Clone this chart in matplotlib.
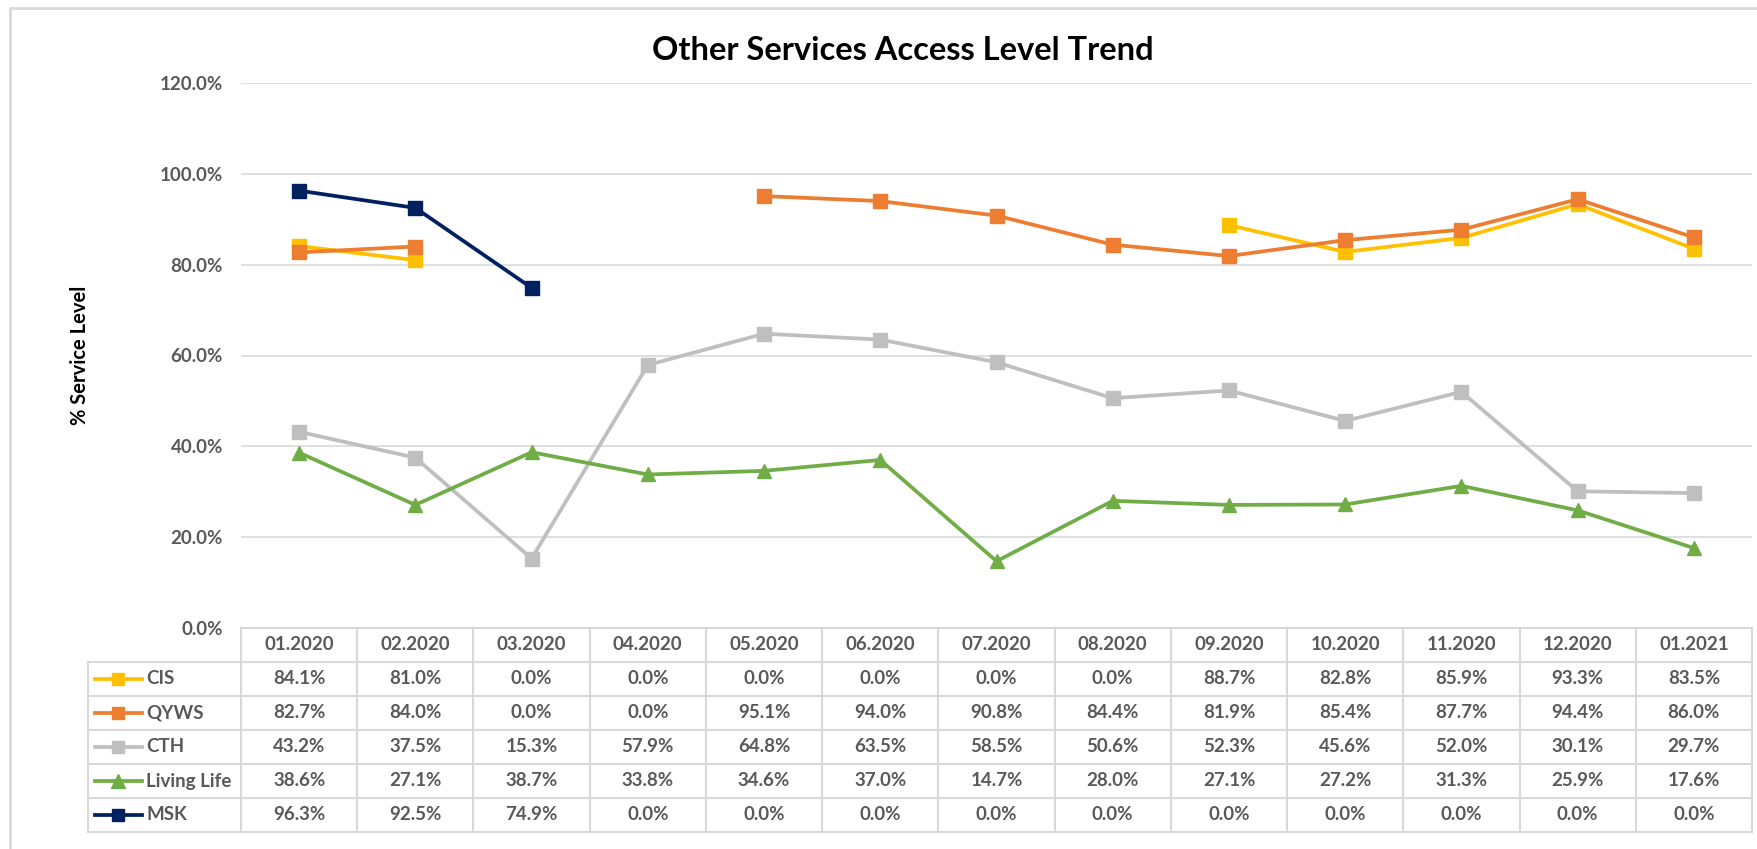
import matplotlib.pyplot as plt
import numpy as np
from matplotlib.lines import Line2D
from matplotlib.transforms import blended_transform_factory

# data (0.0% cells are gaps in the lines)
months = ['01.2020', '02.2020', '03.2020', '04.2020', '05.2020', '06.2020', '07.2020',
          '08.2020', '09.2020', '10.2020', '11.2020', '12.2020', '01.2021']
cis = [84.1, 81.0, 0.0, 0.0, 0.0, 0.0, 0.0, 0.0, 88.7, 82.8, 85.9, 93.3, 83.5]
qyws = [82.7, 84.0, 0.0, 0.0, 95.1, 94.0, 90.8, 84.4, 81.9, 85.4, 87.7, 94.4, 86.0]
cth = [43.2, 37.5, 15.3, 57.9, 64.8, 63.5, 58.5, 50.6, 52.3, 45.6, 52.0, 30.1, 29.7]
living_life = [38.6, 27.1, 38.7, 33.8, 34.6, 37.0, 14.7, 28.0, 27.1, 27.2, 31.3, 25.9, 17.6]
msk = [96.3, 92.5, 74.9, 0.0, 0.0, 0.0, 0.0, 0.0, 0.0, 0.0, 0.0, 0.0, 0.0]

series = [
    ('CIS', cis, '#FFC000', 's'),
    ('QYWS', qyws, '#ED7D31', 's'),
    ('CTH', cth, '#BFBFBF', 's'),
    ('Living Life', living_life, '#70AD47', '^'),
    ('MSK', msk, '#002060', 's'),
]

plt.rcParams['font.family'] = ['Lato', 'DejaVu Sans']
W, H = 1757, 849
fig = plt.figure(figsize=(W / 100, H / 100), dpi=100)

def fx(px):
    return px / W

def fy(py):
    return 1 - py / H

left, right, top, bottom = 241, 1752, 83, 628
ax = fig.add_axes([fx(left), fy(bottom), fx(right - left), fy(top) - fy(bottom)])

x = np.arange(len(months))
for name, vals, color, mk in series:
    v = np.array(vals, dtype=float) / 100
    v[v == 0] = np.nan
    ax.plot(x, v, color=color, lw=2.7, marker=mk, markersize=9.5 if mk == 's' else 10.5,
            solid_joinstyle='round')

ax.set_xlim(-0.5, len(months) - 0.5)
ax.set_ylim(0, 1.2)
ax.set_yticks(np.arange(0, 1.21, 0.2))
ax.set_yticklabels([f'{t * 100:.1f}%' for t in np.arange(0, 1.21, 0.2)])
ax.set_xticks([])
ax.tick_params(axis='y', length=0, pad=13, labelsize=13.5, labelcolor='#595959')
for lbl in ax.get_yticklabels():
    lbl.set_fontweight('bold')
ax.grid(axis='y', color='#D9D9D9', lw=1.2)
ax.set_axisbelow(True)
for s in ax.spines.values():
    s.set_visible(False)

ax.set_ylabel('% Service Level', fontsize=14.5, fontweight='bold', color='black', labelpad=50)

fig.text(fx(903), fy(50), 'Other Services Access Level Trend', ha='center', va='center',
         fontsize=23.5, fontweight='bold', color='black')

# data table under the axis
grid_c = '#D9D9D9'
row_h = 34
tab_left = 88
n_rows = len(series) + 1
tab_bottom = bottom + row_h * n_rows
trans = blended_transform_factory(ax.transData, fig.transFigure)

# horizontal lines
fig.add_artist(Line2D([fx(left), fx(right)], [fy(bottom), fy(bottom)], color=grid_c, lw=1.5))
for r in range(1, n_rows + 1):
    yy = fy(bottom + r * row_h)
    fig.add_artist(Line2D([fx(tab_left), fx(right)], [yy, yy], color=grid_c, lw=1.5))
# vertical lines
fig.add_artist(Line2D([fx(tab_left), fx(tab_left)], [fy(bottom + row_h), fy(tab_bottom)], color=grid_c, lw=1.5))
for c in range(len(months) + 1):
    fig.add_artist(Line2D([c - 0.5, c - 0.5], [fy(bottom), fy(tab_bottom)], color=grid_c, lw=1.5,
                          transform=trans))

for c, m in enumerate(months):
    fig.text(c, fy(bottom + row_h / 2), m, transform=trans, ha='center', va='center',
             fontsize=13.5, fontweight='bold', color='#595959')

for r, (name, vals, color, mk) in enumerate(series):
    yc = fy(bottom + row_h * (r + 1.5))
    fig.add_artist(Line2D([fx(95), fx(142)], [yc, yc], color=color, lw=2.7))
    fig.add_artist(Line2D([fx(118)], [yc], color=color, marker=mk, markersize=9 if mk == 's' else 10, lw=0))
    fig.text(fx(146), yc, name, ha='left', va='center', fontsize=13.5, fontweight='bold', color='#595959')
    for c, v in enumerate(vals):
        fig.text(c, yc, f'{v:.1f}%', transform=trans, ha='center', va='center',
                 fontsize=13.5, fontweight='bold', color='#595959')

# chart border
fig.add_artist(Line2D([fx(10), fx(10), fx(W + 5)], [fy(H + 5), fy(8), fy(8)], color='#D9D9D9', lw=2))

fig.savefig('out.png', dpi=100)
